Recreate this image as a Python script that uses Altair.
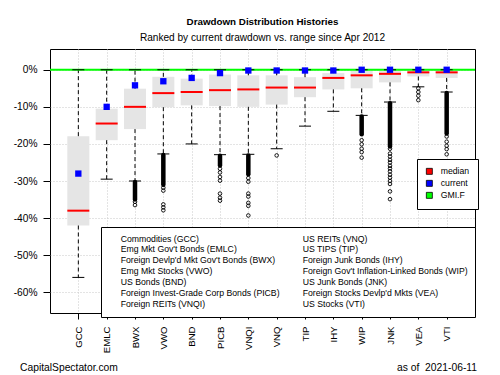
import altair as alt
import pandas as pd

names = ["GCC", "EMLC", "BWX", "VWO", "BND", "PICB", "VNQI", "VNQ", "TIP", "IHY", "WIP", "JNK", "VEA", "VTI"]
box_top = [-17.9, -10.5, -5.1, -1.9, -2.4, -1.3, -1.5, -1.5, -2.0, -0.9, -0.2, -0.2, -0.2, -0.2]
box_bottom = [-42.0, -19.0, -16.0, -10.1, -9.6, -9.8, -10.0, -9.4, -7.4, -5.3, -5.0, -3.4, -1.8, -2.2]
median = [-38.0, -14.5, -10.0, -6.3, -6.0, -5.5, -5.3, -4.8, -4.8, -2.2, -1.5, -1.1, -0.7, -0.7]
current = [-28.0, -10.0, -4.2, -3.1, -2.2, -0.9, -0.2, -0.2, -0.2, -0.2, 0.0, 0.0, 0.0, 0.0]
whisker_low = [-56.0, -29.5, -30.0, -22.7, -20.0, -22.9, -22.8, -21.3, -15.2, -11.2, -12.3, -8.7, -4.6, -6.0]
whisker_high = [0.0] * 14

dense_names = ["BWX", "VWO", "PICB", "VNQI", "WIP", "JNK", "VTI"]
dense_start = [-30.3, -23.0, -23.2, -23.1, -12.6, -9.0, -6.3]
dense_end = [-35.0, -31.0, -25.8, -28.2, -17.4, -20.7, -17.2]

outliers = {
    "BWX": [-35.6, -36.5],
    "VWO": [-31.8, -32.6, -36.3, -37.1, -37.9],
    "PICB": [-26.7, -27.7, -28.9, -29.9, -33.4, -34.5, -35.3],
    "VNQI": [-29.2, -30.2, -33.4, -34.2, -35.9, -36.7, -39.3],
    "VNQ": [-23.1],
    "WIP": [-19.0, -20.1, -21.3, -22.2, -23.7],
    "JNK": [-21.3, -22.6, -23.4, -24.3, -25.0, -25.9, -26.6, -27.4, -28.3, -29.1, -30.0, -30.8, -32.8, -34.9],
    "VEA": [-5.0, -6.0, -7.0, -8.2],
    "VTI": [-18.0, -19.4, -20.5, -21.4, -22.8],
}

legend_series = ["median", "current", "GMI.F"]
legend_colors = ["#ff0000", "#0000ff", "#00ff00"]

fund_labels = [
    "Commodities (GCC)", "Emg Mkt Gov't Bonds (EMLC)", "Foreign Devlp'd Mkt Gov't Bonds (BWX)",
    "Emg Mkt Stocks (VWO)", "US Bonds (BND)", "Foreign Invest-Grade Corp Bonds (PICB)",
    "Foreign REITs (VNQI)", "US REITs (VNQ)", "US TIPS (TIP)", "Foreign Junk Bonds (IHY)",
    "Foreign Gov't Inflation-Linked Bonds (WIP)", "US Junk Bonds (JNK)",
    "Foreign Stocks Devlp'd Mkts (VEA)", "US Stocks (VTI)",
]

FONT = "Liberation Sans"

df = pd.DataFrame({
    "name": names, "q3": box_top, "q1": box_bottom, "med": median,
    "cur": current, "wlo": whisker_low, "whi": whisker_high,
})
dense_df = pd.DataFrame({"name": dense_names, "s": dense_start, "e": dense_end})
out_df = pd.DataFrame([{"name": k, "v": v} for k, vals in outliers.items() for v in vals])
zero_df = pd.DataFrame({"z": [0.0]})
lab_df = pd.DataFrame({"label": fund_labels})
ser_df = pd.DataFrame({"series": legend_series})

xenc = alt.X("name:N", sort=names,
             scale=alt.Scale(type="point", padding=1, domain=names),
             axis=alt.Axis(title=None, labelAngle=270, labelAlign="right", labelBaseline="middle",
                           tickSize=6, labelPadding=7, labelFontSize=9.6, grid=True,
                           gridDash=[1, 2], gridColor="#c8c8c8", domain=False, tickColor="black"))
yscale = alt.Scale(domain=[-65.6, 5.6], nice=False, zero=False)
yenc = lambda f: alt.Y(f, scale=yscale,
                       axis=alt.Axis(title=None, values=[0, -10, -20, -30, -40, -50, -60],
                                     labelExpr="datum.value + '%'", tickSize=7, labelPadding=6,
                                     labelFontSize=10.2, grid=True, gridDash=[1, 2],
                                     gridColor="#c8c8c8", domain=False, tickColor="black"))

base = alt.Chart(df)

boxes = base.mark_bar(size=22, color="#e5e5e5").encode(x=xenc, y=yenc("q3:Q"), y2="q1:Q")
wl = base.mark_rule(color="black", strokeDash=[4, 3], strokeWidth=1).encode(x=xenc, y=yenc("q1:Q"), y2="wlo:Q")
wh = base.mark_rule(color="black", strokeDash=[4, 3], strokeWidth=1).encode(x=xenc, y=yenc("q3:Q"), y2="whi:Q")
green = alt.Chart(zero_df).mark_rule(color="#00ff00", strokeWidth=2).encode(y=yenc("z:Q"))
cap_lo = base.mark_tick(size=12, thickness=1, color="black", opacity=1).encode(x=xenc, y=yenc("wlo:Q"))
cap_hi = base.mark_tick(size=12, thickness=1, color="black", opacity=1).encode(x=xenc, y=yenc("whi:Q"))
med = base.mark_tick(size=22, thickness=2, color="#ff0000", opacity=1).encode(x=xenc, y=yenc("med:Q"))
cur = base.mark_square(size=40, color="#0000ff", opacity=1, filled=True).encode(x=xenc, y=yenc("cur:Q"))
dense = alt.Chart(dense_df).mark_rule(color="black", strokeWidth=4.5, strokeCap="round").encode(
    x=xenc, y=yenc("s:Q"), y2="e:Q")
pts = alt.Chart(out_df).mark_point(shape="circle", size=13, color="black", strokeWidth=0.9,
                                   filled=False, opacity=1).encode(x=xenc, y=yenc("v:Q"))

color_leg = alt.Chart(ser_df).mark_square(size=0, filled=True, stroke="black", strokeWidth=0.8).encode(
    color=alt.Color("series:N", scale=alt.Scale(domain=legend_series, range=legend_colors),
                    legend=alt.Legend(title=None, orient="none", legendX=367, legendY=110,
                                      symbolType="square", symbolSize=36, symbolStrokeColor="black",
                                      symbolStrokeWidth=0.8, symbolOpacity=1, labelOffset=7,
                                      padding=8, rowPadding=1,
                                      labelFontSize=8.7, labelFont=FONT, labelColor="black",
                                      strokeColor="black", fillColor="white")))

text_leg = alt.Chart(lab_df).mark_point(size=0, opacity=0).encode(
    shape=alt.Shape("label:N", scale=alt.Scale(domain=fund_labels),
                    legend=alt.Legend(title=None, orient="none", legendX=51, legendY=178,
                                      columns=2, symbolOpacity=0, symbolSize=36, labelOffset=4,
                                      padding=7, rowPadding=1, columnPadding=10, labelLimit=300,
                                      labelFontSize=8.7, labelFont=FONT, labelColor="black",
                                      strokeColor="black", fillColor="white")))

foot_l = alt.Chart(pd.DataFrame({"t": ["CapitalSpectator.com"]})).mark_text(
    align="left", baseline="middle", fontSize=10.3, font=FONT, color="black").encode(
    text="t:N", x=alt.value(-30), y=alt.value(318.7))
foot_r = alt.Chart(pd.DataFrame({"t": ["as of \u00a02021-06-11"]})).mark_text(
    align="right", baseline="middle", fontSize=10.3, font=FONT, color="black").encode(
    text="t:N", x=alt.value(427), y=alt.value(318.7))

chart = alt.layer(
    boxes, wl, wh, green, cap_lo, cap_hi, med, cur, dense, pts, color_leg, text_leg, foot_l, foot_r
).resolve_scale(color="independent", shape="independent").properties(
    width=425, height=264,
    title=alt.TitleParams(text="Drawdown Distribution Histories",
                          subtitle="Ranked by current drawdown vs. range since Apr 2012",
                          anchor="middle", fontSize=9.8, fontWeight="bold", font=FONT,
                          subtitleFont=FONT, subtitleFontSize=10.1, subtitleColor="black",
                          color="black", offset=6, subtitlePadding=6),
    autosize=alt.AutoSizeParams(type="none"),
    padding={"left": 42, "top": 41, "right": 10, "bottom": 60},
).configure_view(stroke="black", strokeWidth=1).configure_axis(
    labelFont=FONT, labelColor="black"
)

chart.save("out.html", embed_options={"renderer": "svg", "actions": False})
